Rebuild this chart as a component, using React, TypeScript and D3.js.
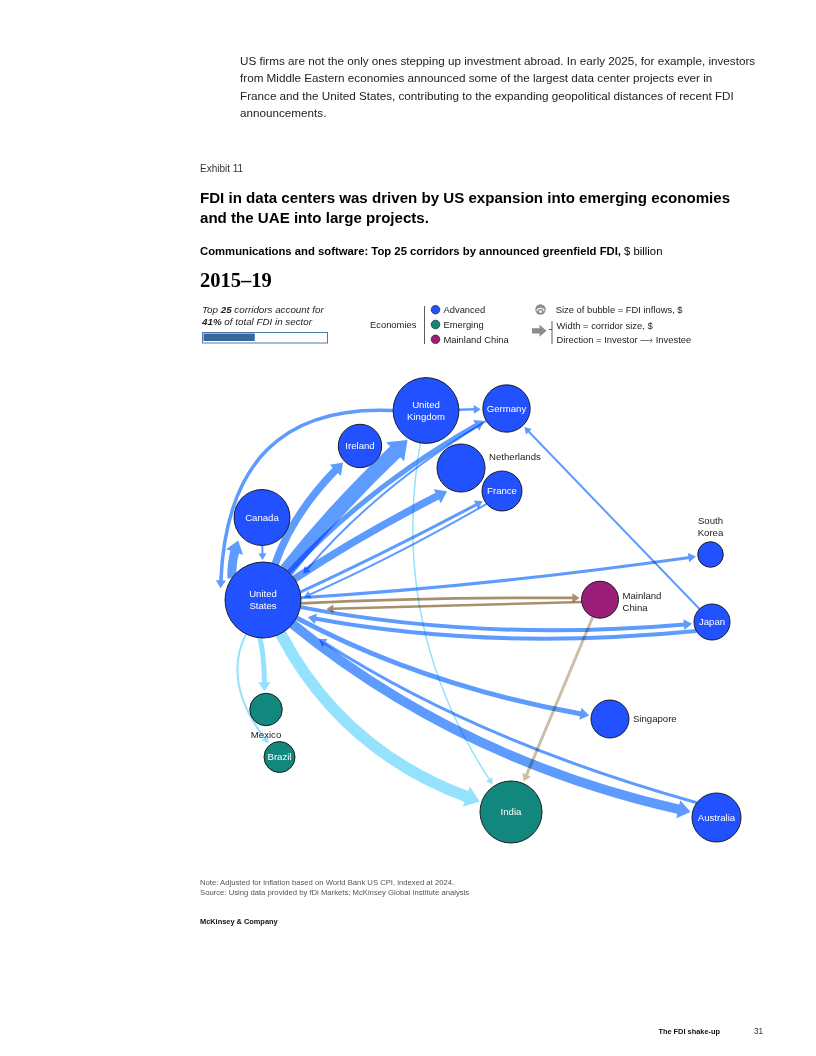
import * as d3 from 'd3';

// ---- data ----
const economies = ['US', 'UK', 'DE', 'IE', 'CA', 'NL', 'FR', 'KR', 'CN', 'JP', 'MX', 'BR', 'IN', 'SG', 'AU'];
const economyLabels = [
  'United\nStates', 'United\nKingdom', 'Germany', 'Ireland', 'Canada', 'Netherlands', 'France',
  'South\nKorea', 'Mainland\nChina', 'Japan', 'Mexico', 'Brazil', 'India', 'Singapore', 'Australia',
];
const economyGroups = [
  'advanced', 'advanced', 'advanced', 'advanced', 'advanced', 'advanced', 'advanced',
  'advanced', 'china', 'advanced', 'emerging', 'emerging', 'emerging', 'advanced', 'advanced',
];
// FDI inflows, $ billion (bubble size)
const fdiInflows = [60, 45, 23.3, 19.6, 32.5, 24, 16.6, 6.8, 14.2, 13.5, 11, 10, 40, 15, 25];

// top 25 corridors, investor -> investee, $ billion
const corridorFrom = ['US', 'US', 'US', 'US', 'US', 'US', 'US', 'US', 'US', 'US', 'JP', 'UK', 'US', 'US', 'AU', 'CN', 'US', 'CN', 'UK', 'CA', 'FR', 'DE', 'JP', 'US', 'UK'];
const corridorTo = ['UK', 'IN', 'AU', 'CA', 'IE', 'NL', 'MX', 'SG', 'DE', 'JP', 'US', 'US', 'KR', 'FR', 'US', 'IN', 'CN', 'US', 'DE', 'US', 'US', 'US', 'DE', 'BR', 'IN'];
const corridorValues = [30, 23, 19, 18, 15, 15, 10, 10, 10, 8, 8, 7, 6, 6, 6, 6, 5.5, 5, 5, 4, 4, 4, 4, 4, 3];

const topShare = 41; // % of total sector FDI

// ---- layout (relative positions in the network frame) ----
const layoutX = [0.1125, 0.4036, 0.5473, 0.2857, 0.1107, 0.4661, 0.5393, 0.9116, 0.7143, 0.9143, 0.1179, 0.142, 0.5554, 0.7321, 0.9223];
const layoutY = [0.4792, 0.0844, 0.0802, 0.1583, 0.3073, 0.2042, 0.2521, 0.3844, 0.4785, 0.525, 0.7073, 0.8063, 0.9208, 0.7271, 0.9323];
const labelPlace: Record<string, string> = { NL: 'right', KR: 'above', CN: 'right', MX: 'below', SG: 'right' };

// curve shape per corridor: bend, start/end angle overrides (deg), end gap
type Shape = { bend?: number; a0?: number; a1?: number; gap?: number };
const corridorShapes: Shape[] = [
  { bend: -0.02, a1: 122 },
  { bend: 0.2 },
  { bend: 0.12 },
  { bend: -0.38, a0: 215, a1: 136, gap: 5 },
  { bend: -0.12 },
  { a1: 121, gap: 3 },
  { a0: 95, a1: 265 },
  { bend: 0.08 },
  { bend: -0.08 },
  { bend: 0.07 },
  { bend: -0.09, a0: 150, a1: 21, gap: 10 },
  { bend: 0.63, a0: 180, a1: 195.6, gap: 6 },
  { bend: 0.02 },
  { bend: 0.03, a0: -12 },
  { bend: -0.07, a0: 217, a1: 35, gap: 30 },
  {},
  { bend: -0.008, a0: 5, a1: 185 },
  { bend: -0.02, a0: 173, a1: 8, gap: 26 },
  {},
  {},
  { bend: -0.06, a0: 140, a1: -4, gap: 3 },
  { bend: 0.06, a1: -33, gap: 10 },
  {},
  { bend: 0.32 },
  { bend: 0.2 },
];

const bodyLines = [
  'US firms are not the only ones stepping up investment abroad. In early 2025, for example, investors',
  'from Middle Eastern economies announced some of the largest data center projects ever in',
  'France and the United States, contributing to the expanding geopolitical distances of recent FDI',
  'announcements.',
];

const SANS = "'Liberation Sans', Arial, sans-serif";
const SERIF = "'Liberation Serif', 'DejaVu Serif', serif";
const nodeColor: Record<string, string> = { advanced: '#2251FF', emerging: '#12877D', china: '#9B1F78' };

const xs = d3.scaleLinear().domain([0, 1]).range([200, 760]);
const ys = d3.scaleLinear().domain([0, 1]).range([370, 850]);
const rs = d3.scaleSqrt().domain([0, 60]).range([0, 38]);
const ws = d3.scaleLinear().domain([0, 30]).range([0, 15]);

type P = { x: number; y: number };
const idx = (id: string) => economies.indexOf(id);
const unit = (a: P, b: P): P => {
  const dx = b.x - a.x, dy = b.y - a.y;
  const l = Math.hypot(dx, dy) || 1;
  return { x: dx / l, y: dy / l };
};
const fromAngle = (deg: number): P => ({ x: Math.cos((deg * Math.PI) / 180), y: Math.sin((deg * Math.PI) / 180) });
const quad = (p0: P, c: P, p2: P, t: number): P => ({
  x: (1 - t) * (1 - t) * p0.x + 2 * t * (1 - t) * c.x + t * t * p2.x,
  y: (1 - t) * (1 - t) * p0.y + 2 * t * (1 - t) * c.y + t * t * p2.y,
});

function corridorColor(from: string, to: string) {
  const g0 = economyGroups[idx(from)], g1 = economyGroups[idx(to)];
  if (g0 === 'china' && g1 === 'emerging') return '#CDBFA7';
  if (g0 === 'china' || g1 === 'china') return '#A88F6C';
  if (g1 === 'emerging') return '#94E2FE';
  return '#5E9BFF';
}

function buildCorridor(i: number) {
  const si = idx(corridorFrom[i]), ti = idx(corridorTo[i]);
  const S = { x: xs(layoutX[si]), y: ys(layoutY[si]) };
  const T = { x: xs(layoutX[ti]), y: ys(layoutY[ti]) };
  const rS = rs(fdiInflows[si]), rT = rs(fdiInflows[ti]);
  const sh = corridorShapes[i];
  const bend = sh.bend ?? 0;
  const dx = T.x - S.x, dy = T.y - S.y;
  const C = { x: (S.x + T.x) / 2 - bend * dy, y: (S.y + T.y) / 2 + bend * dx };
  const d0 = sh.a0 != null ? fromAngle(sh.a0) : unit(S, C);
  const p0 = { x: S.x + rS * d0.x, y: S.y + rS * d0.y };
  const d1 = sh.a1 != null ? fromAngle(sh.a1) : unit(T, C);
  const g = rT + (sh.gap ?? 2);
  const tip = { x: T.x + g * d1.x, y: T.y + g * d1.y };
  const sw = ws(corridorValues[i]);
  const headLen = sw * 0.8 + 5;
  const halfW = sw * 0.7 + 2.6;
  let lo = 0, hi = 1;
  for (let k = 0; k < 40; k++) {
    const m = (lo + hi) / 2;
    const b = quad(p0, C, tip, m);
    if (Math.hypot(tip.x - b.x, tip.y - b.y) > headLen - 1) lo = m;
    else hi = m;
  }
  const q1 = { x: p0.x + (C.x - p0.x) * lo, y: p0.y + (C.y - p0.y) * lo };
  const q2 = quad(p0, C, tip, lo);
  const path = d3.path();
  path.moveTo(p0.x, p0.y);
  path.quadraticCurveTo(q1.x, q1.y, q2.x, q2.y);
  const dir = unit(q2, tip);
  const base = { x: tip.x - dir.x * headLen, y: tip.y - dir.y * headLen };
  const head = d3.path();
  head.moveTo(tip.x, tip.y);
  head.lineTo(base.x - dir.y * halfW, base.y + dir.x * halfW);
  head.lineTo(base.x + dir.y * halfW, base.y - dir.x * halfW);
  head.closePath();
  return { shaft: path.toString(), head: head.toString(), sw, color: corridorColor(corridorFrom[i], corridorTo[i]) };
}

function NodeLabel({ i }: { i: number }) {
  const id = economies[i];
  const cx = xs(layoutX[i]), cy = ys(layoutY[i]), r = rs(fdiInflows[i]);
  const lines = economyLabels[i].split('\n');
  const place = labelPlace[id] ?? 'inside';
  const lh = 12;
  let x = cx, y0 = cy - ((lines.length - 1) * lh) / 2 + 3.4, anchor: 'middle' | 'start' = 'middle';
  if (place === 'right') { x = cx + r + 4; anchor = 'start'; }
  if (place === 'above') y0 = cy - r - 6 - (lines.length - 1) * lh;
  if (place === 'below') y0 = cy + r + 12;
  if (id === 'NL') y0 = cy - r + 16;
  if (id === 'CN') y0 = cy - 1;
  return (
    <text x={x} y={y0} textAnchor={anchor} fontSize={9.6} fontFamily={SANS}
      fill={place === 'inside' ? '#fff' : '#222'}>
      {lines.map((l, k) => (
        <tspan key={k} x={x} y={y0 + k * lh}>{l}</tspan>
      ))}
    </text>
  );
}

export default function App() {
  const corridors = corridorValues.map((_, i) => buildCorridor(i));
  const legendItems = [
    { label: 'Advanced', color: nodeColor.advanced },
    { label: 'Emerging', color: nodeColor.emerging },
    { label: 'Mainland China', color: nodeColor.china },
  ];
  const barX = d3.scaleLinear().domain([0, 100]).range([0, 125]);
  return (
    <svg width={816} height={1056} style={{ position: 'absolute', left: 0, top: 0, background: '#fff' }}
      fontFamily={SANS}>
      {bodyLines.map((l, k) => (
        <text key={k} x={240} y={65 + k * 17.3} fontSize={11.7} fill="#222">{l}</text>
      ))}

      <text x={200} y={172} fontSize={10} fill="#333">Exhibit 11</text>
      <text x={200} y={203} fontSize={15.1} fontWeight="bold" fill="#000">
        FDI in data centers was driven by US expansion into emerging economies
      </text>
      <text x={200} y={223} fontSize={15.1} fontWeight="bold" fill="#000">and the UAE into large projects.</text>
      <text x={200} y={255} fontSize={11.3} fill="#000">
        <tspan fontWeight="bold">Communications and software: Top 25 corridors by announced greenfield FDI,</tspan>
        <tspan> $ billion</tspan>
      </text>
      <text x={200} y={287} fontSize={20.5} fontWeight="bold" fontFamily={SERIF} fill="#000">2015–19</text>

      {/* share box */}
      <text x={202} y={312.5} fontSize={9.8} fontStyle="italic" fill="#222">
        Top <tspan fontWeight="bold">25</tspan> corridors account for
      </text>
      <text x={202} y={324.5} fontSize={9.8} fontStyle="italic" fill="#222">
        <tspan fontWeight="bold">{topShare}%</tspan> of total FDI in sector
      </text>
      <rect x={202.5} y={332.5} width={125} height={10.5} fill="#fff" stroke="#4C79AA" strokeWidth={1} />
      <rect x={203.5} y={333.5} width={barX(topShare)} height={7.5} fill="#35679A" />

      {/* economies legend */}
      <text x={370} y={328} fontSize={9.4} fill="#222">Economies</text>
      <line x1={424.5} x2={424.5} y1={306} y2={344} stroke="#333" strokeWidth={0.8} />
      {legendItems.map((it, k) => (
        <g key={it.label}>
          <circle cx={435.5} cy={309.7 + k * 14.8} r={4.3} fill={it.color} stroke="#222" strokeWidth={0.7} />
          <text x={443.5} y={313 + k * 14.8} fontSize={9.4} fill="#222">{it.label}</text>
        </g>
      ))}

      {/* bubble / width legend */}
      <circle cx={540.5} cy={309.5} r={5.2} fill="#8C8C8C" />
      <path d="M536.8,311.2 A3.8,3.8 0 0 1 544.2,311.2" fill="none" stroke="#fff" strokeWidth={1.2} />
      <circle cx={540.5} cy={311.6} r={1.4} fill="#fff" />
      <text x={555.7} y={313} fontSize={9.4} fill="#222">Size of bubble = FDI inflows, $</text>
      <path d="M532,328.2 L539.5,328.2 L539.5,324.8 L546.5,330.8 L539.5,336.8 L539.5,333.4 L532,333.4 Z" fill="#8C8C8C" />
      <line x1={552} x2={552} y1={321} y2={344} stroke="#333" strokeWidth={0.8} />
      <line x1={549} x2={552} y1={329.5} y2={329.5} stroke="#333" strokeWidth={0.8} />
      <text x={556.5} y={329} fontSize={9.4} fill="#222">Width = corridor size, $</text>
      <text x={556.5} y={343} fontSize={9.4} fill="#222">
        Direction = Investor <tspan fill="#777">⟶</tspan> Investee
      </text>

      {/* corridors */}
      {corridors.map((c, i) => (
        <g key={i} style={{ mixBlendMode: 'multiply' }}>
          <path d={c.shaft} fill="none" stroke={c.color} strokeWidth={c.sw} />
          <path d={c.head} fill={c.color} />
        </g>
      ))}

      {/* bubbles */}
      {economies.map((id, i) => (
        <circle key={id} cx={xs(layoutX[i])} cy={ys(layoutY[i])} r={rs(fdiInflows[i])}
          fill={nodeColor[economyGroups[i]]} stroke="#111" strokeWidth={0.9} />
      ))}
      {economies.map((id, i) => <NodeLabel key={id} i={i} />)}

      <text x={200} y={885} fontSize={7.7} fill="#555">
        Note: Adjusted for inflation based on World Bank US CPI, indexed at 2024.
      </text>
      <text x={200} y={895} fontSize={7.7} fill="#555">
        Source: Using data provided by fDi Markets; McKinsey Global Institute analysis
      </text>
      <text x={200} y={924} fontSize={7.4} fontWeight="bold" fill="#111">McKinsey &amp; Company</text>

      <text x={720} y={1034} fontSize={7.4} fontWeight="bold" textAnchor="end" fill="#111">The FDI shake-up</text>
      <text x={754} y={1034} fontSize={8.2} fill="#333">31</text>
    </svg>
  );
}
